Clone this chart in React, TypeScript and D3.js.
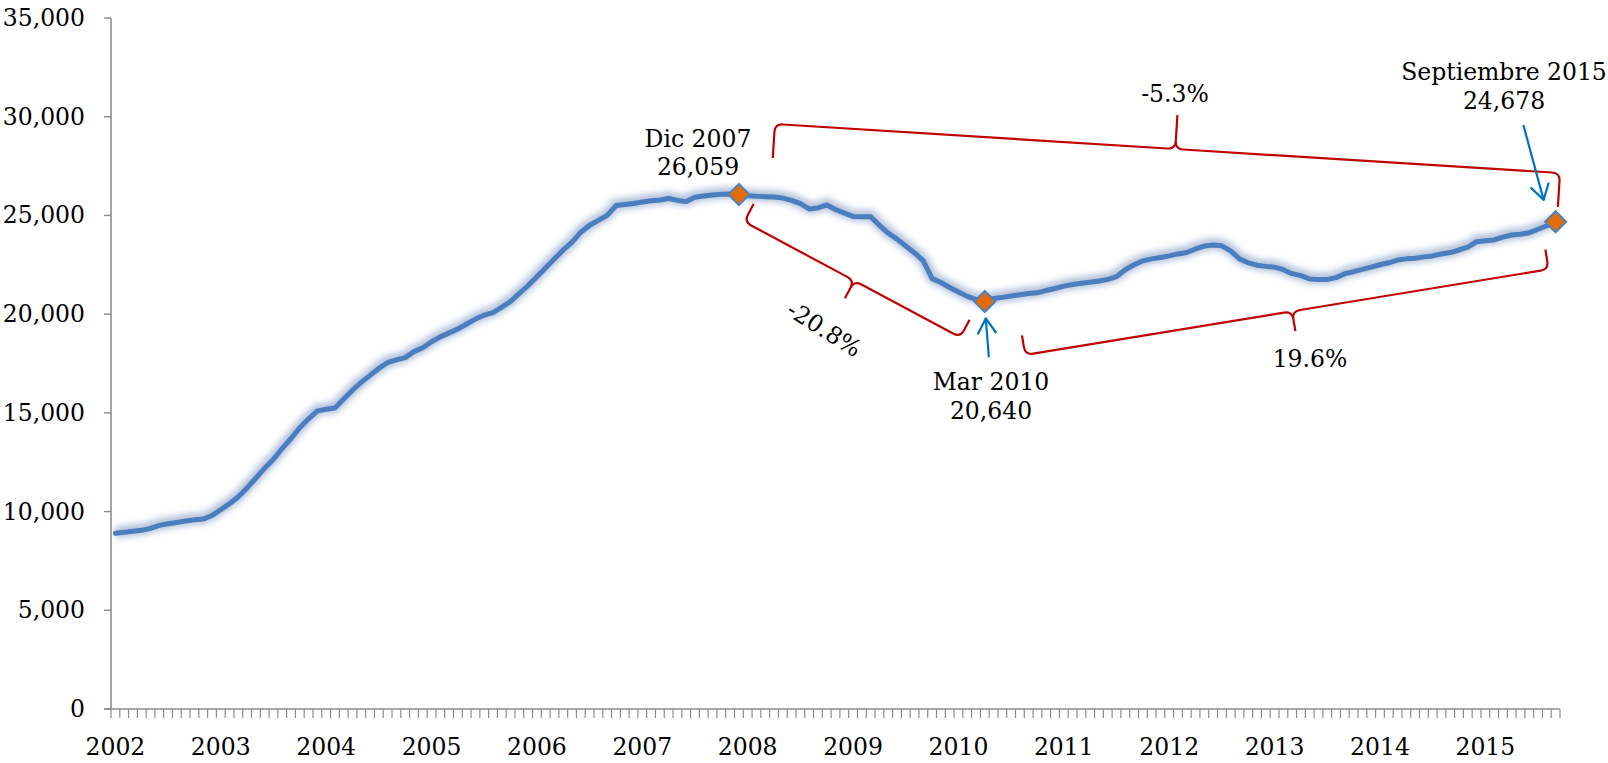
import React from "react";
import * as d3 from "d3";

// Monthly series, Jan 2002 .. Sep 2015 (165 months)
const startYear = 2002;
const values: number[] = [
  // 2002
  8900, 8950, 9000, 9050, 9150, 9300, 9380, 9450, 9520, 9580, 9620, 9800,
  // 2003
  10100, 10400, 10750, 11200, 11700, 12200, 12650, 13200, 13700, 14250, 14700, 15100,
  // 2004
  15180, 15250, 15700, 16150, 16550, 16900, 17250, 17550, 17680, 17800, 18100, 18300,
  // 2005
  18600, 18850, 19050, 19250, 19500, 19750, 19950, 20080, 20350, 20650, 21050, 21450,
  // 2006
  21900, 22350, 22800, 23250, 23650, 24150, 24500, 24750, 25000, 25500, 25550, 25600,
  // 2007
  25680, 25740, 25780, 25860, 25760, 25700, 25920, 25980, 26030, 26070, 26080, 26059,
  // 2008
  26000, 25970, 25950, 25930, 25880, 25760, 25600, 25330, 25380, 25530, 25300, 25120,
  // 2009
  24950, 24930, 24930, 24500, 24100, 23800, 23450, 23100, 22700, 21800, 21600, 21350,
  // 2010
  21120, 20900, 20750, 20640, 20790, 20850, 20920, 20980, 21050, 21080, 21200, 21300,
  // 2011
  21420, 21500, 21560, 21620, 21680, 21760, 21900, 22250, 22500, 22700, 22800, 22870,
  // 2012
  22950, 23050, 23120, 23300, 23450, 23500, 23460, 23200, 22800, 22600, 22480, 22420,
  // 2013
  22380, 22250, 22050, 21950, 21780, 21750, 21760, 21850, 22050, 22150, 22270, 22380,
  // 2014
  22500, 22600, 22740, 22800, 22830, 22900, 22950, 23050, 23120, 23250, 23400, 23670,
  // 2015
  23720, 23760, 23900, 24010, 24050, 24120, 24300, 24480, 24678,
];

const yearLabels = ["2002", "2003", "2004", "2005", "2006", "2007", "2008", "2009", "2010", "2011", "2012", "2013", "2014", "2015"];
const yTicks = [0, 5000, 10000, 15000, 20000, 25000, 30000, 35000];

// Highlighted points: month index, label lines
const markerIdx = [71, 99, 164];
const markerLabels = [
  { idx: 71, lines: ["Dic 2007", "26,059"] },
  { idx: 99, lines: ["Mar 2010", "20,640"] },
  { idx: 164, lines: ["Septiembre 2015", "24,678"] },
];

// Braces: corners in (month index, value), label
const braces = [
  { a: [75.1, 29630], b: [164.5, 27150], label: "-5.3%", up: true },
  { a: [71.6, 24682], b: [96.2, 18827], label: "-20.8%", up: false },
  { a: [103.6, 17930], b: [163.2, 22271], label: "19.6%", up: false },
];

const W = 1608;
const H = 763;
const FONT = "'DejaVu Serif', 'Liberation Serif', serif";

export default function App() {
  const n = values.length;
  const left = 111;
  const right = 1560;
  const xBand = d3.scaleBand<number>().domain(d3.range(n)).range([left, right]).padding(0);
  const bw = xBand.bandwidth();
  const xi = d3.scaleLinear().domain([-0.5, n - 0.5]).range([left, right]);
  const y = d3.scaleLinear().domain([0, 35000]).range([709, 18]);

  const line = d3
    .line<number>()
    .x((_, i) => xi(i))
    .y((v) => y(v))
    .curve(d3.curveLinear);
  const linePath = line(values) || "";

  const braceEls = braces.map((br, k) => {
    const c1 = [xi(br.a[0]), y(br.a[1])];
    const c2 = [xi(br.b[0]), y(br.b[1])];
    const dx = c2[0] - c1[0];
    const dy = c2[1] - c1[1];
    const len = Math.hypot(dx, dy);
    const u = [dx / len, dy / len];
    let nn = [u[1], -u[0]];
    const wantUp = br.up;
    if (wantUp ? nn[1] > 0 : nn[1] < 0) nn = [-nn[0], -nn[1]];
    const d = k === 0 ? 34 : 20;
    const r = 8;
    const P = (p: number[], a: number, b: number) => [p[0] + u[0] * a + nn[0] * b, p[1] + u[1] * a + nn[1] * b];
    const mid = [(c1[0] + c2[0]) / 2 + u[0] * len * 0.01, (c1[1] + c2[1]) / 2 + u[1] * len * 0.01];
    const e1 = P(c1, 0, -d);
    const e2 = P(c2, 0, -d);
    const s = (p: number[]) => `${p[0].toFixed(1)},${p[1].toFixed(1)}`;
    const path =
      `M${s(e1)} L${s(P(c1, 0, -r))} Q${s(c1)} ${s(P(c1, r, 0))}` +
      ` L${s(P(mid, -r, 0))} Q${s(mid)} ${s(P(mid, 0, r))} L${s(P(mid, 0, d))}` +
      ` M${s(P(mid, 0, r))} Q${s(mid)} ${s(P(mid, r, 0))}` +
      ` L${s(P(c2, -r, 0))} Q${s(c2)} ${s(P(c2, 0, -r))} L${s(e2)}`;
    return { path, mid, u, nn, d, label: br.label, k };
  });

  return (
    <svg width={W} height={H} style={{ position: "absolute", left: 0, top: 0, display: "block", background: "#fff" }} fontFamily={FONT}>
      <defs>
        <filter id="glow" x="-5%" y="-10%" width="110%" height="120%">
          <feGaussianBlur stdDeviation="3" />
        </filter>
      </defs>

      {/* Y axis */}
      <line x1={left} x2={left} y1={y(35000)} y2={y(0)} stroke="#8c8c8c" strokeWidth={1.6} />
      {yTicks.map((t) => (
        <g key={t}>
          <line x1={left - 7} x2={left} y1={y(t)} y2={y(t)} stroke="#8c8c8c" strokeWidth={1.4} />
          <text x={85} y={y(t) + 8} textAnchor="end" fontSize={23.5} fill="#000">
            {d3.format(",")(t)}
          </text>
        </g>
      ))}

      {/* X axis */}
      <line x1={left - 7} x2={right} y1={y(0)} y2={y(0)} stroke="#8c8c8c" strokeWidth={1.6} />
      {d3.range(n + 1).map((i) => {
        const xx = i < n ? (xBand(i) as number) : right;
        return <line key={i} x1={xx} x2={xx} y1={y(0)} y2={y(0) + 9} stroke="#8c8c8c" strokeWidth={1.2} />;
      })}
      {yearLabels.map((lab, k) => (
        <text key={lab} x={(xBand(k * 12) as number) + bw / 2} y={755} textAnchor="middle" fontSize={23.5} fill="#000">
          {lab}
        </text>
      ))}

      {/* Line with glow */}
      <path d={linePath} fill="none" stroke="#a9b9d6" strokeOpacity={0.85} strokeWidth={12} filter="url(#glow)" transform="translate(0,-1)" />
      <path d={linePath} fill="none" stroke="#4a7ebf" strokeWidth={5} strokeLinejoin="round" strokeLinecap="round" />

      {/* Markers */}
      {markerIdx.map((i) => {
        const cx = xi(i);
        const cy = y(values[i]);
        const s = 10.5;
        return (
          <path
            key={i}
            d={`M${cx},${cy - s} L${cx + s},${cy} L${cx},${cy + s} L${cx - s},${cy} Z`}
            fill="#e36c09"
            stroke="#4f81bd"
            strokeWidth={2}
          />
        );
      })}

      {/* Braces */}
      {braceEls.map((b) => (
        <path key={b.k} d={b.path} fill="none" stroke="#c00000" strokeWidth={2.2} strokeLinejoin="round" />
      ))}
      <text x={1175} y={102} textAnchor="middle" fontSize={23.5}>-5.3%</text>
      <text x={0} y={0} textAnchor="middle" fontSize={23.5} transform="translate(820,336) rotate(32)">-20.8%</text>
      <text x={1310} y={367} textAnchor="middle" fontSize={23.5}>19.6%</text>

      {/* Blue arrows */}
      {(() => {
        const i1 = markerIdx[1];
        const tx = xi(i1) + 1;
        const ty = y(values[i1]) + 17;
        const bx = tx + 3;
        const by = ty + 38;
        const i2 = markerIdx[2];
        const t2x = xi(i2) - 12;
        const t2y = y(values[i2]) - 22;
        const b2x = t2x - 20;
        const b2y = t2y - 74;
        const ang = Math.atan2(t2y - b2y, t2x - b2x);
        const h = 17;
        const spread = 0.55;
        const a1 = [t2x - h * Math.cos(ang - spread), t2y - h * Math.sin(ang - spread)];
        const a2 = [t2x - h * Math.cos(ang + spread), t2y - h * Math.sin(ang + spread)];
        const angB = Math.atan2(ty - by, tx - bx);
        const b1 = [tx - h * Math.cos(angB - spread), ty - h * Math.sin(angB - spread)];
        const b3 = [tx - h * Math.cos(angB + spread), ty - h * Math.sin(angB + spread)];
        return (
          <g stroke="#0070c0" strokeWidth={2.2} fill="none" strokeLinecap="round" strokeLinejoin="round">
            <line x1={bx} y1={by} x2={tx} y2={ty} />
            <polyline points={`${b1[0]},${b1[1]} ${tx},${ty} ${b3[0]},${b3[1]}`} />
            <line x1={b2x} y1={b2y} x2={t2x} y2={t2y} />
            <polyline points={`${a1[0]},${a1[1]} ${t2x},${t2y} ${a2[0]},${a2[1]}`} />
          </g>
        );
      })()}

      {/* Marker labels */}
      <text textAnchor="middle" fontSize={23.5} fill="#000">
        <tspan x={698} y={147}>{markerLabels[0].lines[0]}</tspan>
        <tspan x={698} y={175}>{markerLabels[0].lines[1]}</tspan>
      </text>
      <text textAnchor="middle" fontSize={23.5} fill="#000">
        <tspan x={991} y={390}>{markerLabels[1].lines[0]}</tspan>
        <tspan x={991} y={419}>{markerLabels[1].lines[1]}</tspan>
      </text>
      <text textAnchor="middle" fontSize={23.5} fill="#000">
        <tspan x={1504} y={80}>{markerLabels[2].lines[0]}</tspan>
        <tspan x={1504} y={109}>{markerLabels[2].lines[1]}</tspan>
      </text>
    </svg>
  );
}
